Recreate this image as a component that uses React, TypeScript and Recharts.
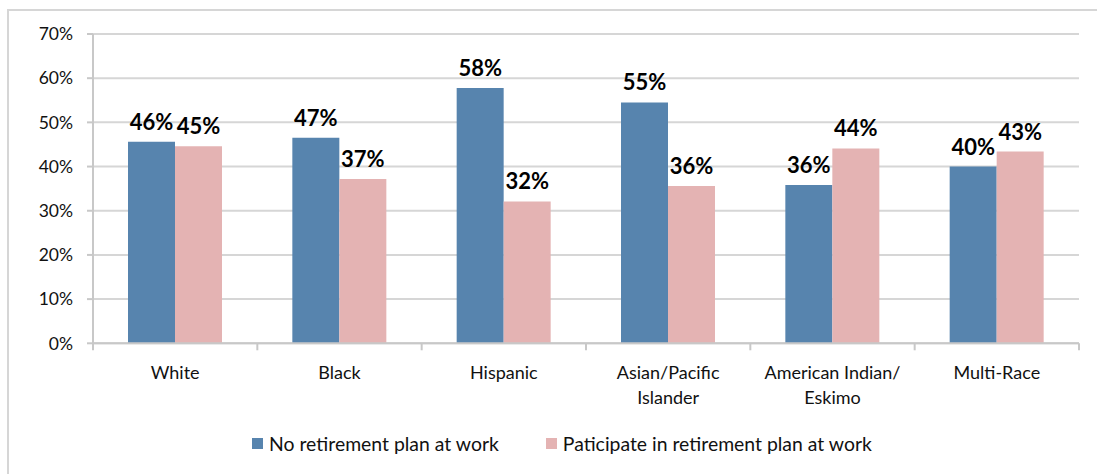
import React from 'react';
import { BarChart, Bar, XAxis, YAxis, CartesianGrid, Legend, LabelList } from 'recharts';

const categories = ['White', 'Black', 'Hispanic', 'Asian/Pacific Islander', 'American Indian/ Eskimo', 'Multi-Race'];
const categoryLines = [['White'], ['Black'], ['Hispanic'], ['Asian/Pacific', 'Islander'], ['American Indian/', 'Eskimo'], ['Multi-Race']];
const noPlan = [45.6, 46.5, 57.8, 54.5, 35.8, 40.0];
const participate = [44.6, 37.2, 32.1, 35.6, 44.1, 43.4];
const yTicks = [0, 10, 20, 30, 40, 50, 60, 70];
const seriesNames = ['No retirement plan at work', 'Paticipate in retirement plan at work'];
const seriesColors = ['#5784AE', '#E4B3B3'];

const data = categories.map((c, i) => ({ name: c, noPlan: noPlan[i], participate: participate[i] }));

const CHART_W = 1097;
const CHART_H = 474;
const MARGIN = { top: 34, right: 18, bottom: 0, left: 0 };
const Y_AXIS_W = 93;
const X_AXIS_H = 130.7;
const PLOT_W = CHART_W - MARGIN.left - MARGIN.right - Y_AXIS_W;
const AXIS_Y = CHART_H - MARGIN.bottom - X_AXIS_H;
const FONT = 'Lato, "Liberation Sans", sans-serif';

const XTick = (props: any) => {
  const { x, payload, index } = props;
  const idx = categories.indexOf(payload.value);
  const lines = categoryLines[idx >= 0 ? idx : 0];
  const half = payload.offset ? payload.offset : PLOT_W / categories.length / 2;
  const n = categories.length;
  return (
    <g>
      <line x1={x - half} x2={x - half} y1={AXIS_Y} y2={AXIS_Y + 7} stroke="#c8c8c8" strokeWidth={2} />
      {index === n - 1 && (
        <line x1={x + half} x2={x + half} y1={AXIS_Y} y2={AXIS_Y + 7} stroke="#c8c8c8" strokeWidth={2} />
      )}
      <text x={x} y={AXIS_Y + 36} textAnchor="middle" fill="#111" fontSize={18} fontFamily={FONT}>
        {lines.map((l, i) => (
          <tspan key={i} x={x} dy={i === 0 ? 0 : 25}>{l}</tspan>
        ))}
      </text>
    </g>
  );
};

const renderLegend = (props: any) => {
  const { payload } = props;
  return (
    <div style={{ display: 'flex', alignItems: 'center', fontFamily: FONT, fontSize: 19.4, color: '#111', whiteSpace: 'nowrap' }}>
      {payload.map((p: any, i: number) => (
        <div key={i} style={{ display: 'flex', alignItems: 'center', marginRight: i === 0 ? 47 : 0 }}>
          <span style={{ display: 'inline-block', width: 11, height: 11, background: p.color, marginRight: 6 }} />
          <span>{p.value}</span>
        </div>
      ))}
    </div>
  );
};

export default function App() {
  return (
    <div style={{ position: 'absolute', left: 0, top: 0, width: CHART_W, height: CHART_H, background: '#fff', fontFamily: FONT }}>
      <div style={{ position: 'absolute', left: 7, top: 9, right: 0, bottom: 0, borderTop: '2px solid #d6d6d6', borderLeft: '2px solid #d6d6d6' }} />
      <div style={{ position: 'absolute', left: 0, top: 0 }}>
        <BarChart width={CHART_W} height={CHART_H} data={data} margin={MARGIN} barCategoryGap="21.3%" barGap={0}>
          <CartesianGrid vertical={false} stroke="#d6d6d6" strokeWidth={2} />
          <XAxis
            dataKey="name"
            height={X_AXIS_H}
            tickLine={false}
            axisLine={{ stroke: '#c8c8c8', strokeWidth: 2 }}
            tick={<XTick />}
            interval={0}
          />
          <YAxis
            width={Y_AXIS_W}
            domain={[0, 70]}
            ticks={yTicks}
            tickFormatter={(v: number) => `${v}%`}
            tickSize={6}
            tickMargin={14}
            tickLine={{ stroke: '#c8c8c8', strokeWidth: 2 }}
            axisLine={{ stroke: '#c8c8c8', strokeWidth: 2 }}
            tick={{ fill: '#111', fontSize: 17.5, fontFamily: FONT }}
            allowDataOverflow
          />
          <Legend
            layout="horizontal"
            verticalAlign="middle"
            align="center"
            content={renderLegend}
            wrapperStyle={{ top: 432, left: 252, width: 760 }}
          />
          <Bar dataKey="noPlan" name={seriesNames[0]} fill={seriesColors[0]} isAnimationActive={false}>
            <LabelList
              dataKey="noPlan"
              position="top"
              offset={12}
              formatter={(v: any) => `${Math.round(Number(v))}%`}
              style={{ fontWeight: 700, fontSize: 22, fill: '#000', fontFamily: FONT }}
            />
          </Bar>
          <Bar dataKey="participate" name={seriesNames[1]} fill={seriesColors[1]} isAnimationActive={false}>
            <LabelList
              dataKey="participate"
              position="top"
              offset={12}
              formatter={(v: any) => `${Math.round(Number(v))}%`}
              style={{ fontWeight: 700, fontSize: 22, fill: '#000', fontFamily: FONT }}
            />
          </Bar>
        </BarChart>
      </div>
    </div>
  );
}
